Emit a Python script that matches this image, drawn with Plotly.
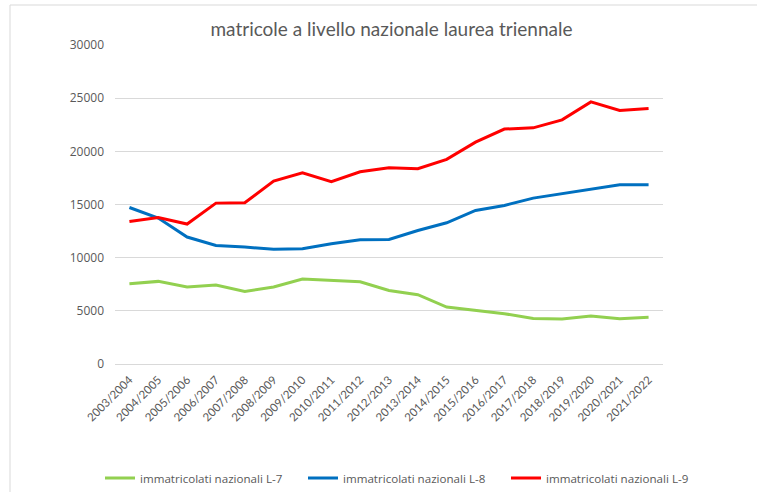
import plotly.graph_objects as go

years = ["2003/2004", "2004/2005", "2005/2006", "2006/2007", "2007/2008", "2008/2009",
         "2009/2010", "2010/2011", "2011/2012", "2012/2013", "2013/2014", "2014/2015",
         "2015/2016", "2016/2017", "2017/2018", "2018/2019", "2019/2020", "2020/2021",
         "2021/2022"]

l7 = [7550, 7770, 7240, 7430, 6830, 7240, 7990, 7830, 7740, 6920, 6520, 5360,
      5050, 4730, 4290, 4230, 4510, 4260, 4390]
l8 = [14720, 13720, 11940, 11150, 11000, 10780, 10840, 11310, 11690, 11720, 12560,
      13280, 14440, 14910, 15600, 16010, 16480, 16850, 16860]
l9 = [13410, 13780, 13160, 15130, 15160, 17200, 17980, 17140, 18080, 18450, 18360,
      19240, 20860, 22090, 22210, 22960, 24650, 23840, 24030]

names = ["immatricolati nazionali L-7", "immatricolati nazionali L-8", "immatricolati nazionali L-9"]
colors = ["#92D050", "#0070C0", "#FF0000"]

FONT = "Lato, sans-serif"
LFONT = "Open Sans, sans-serif"
GRAY = "#595959"

fig = go.Figure()
for vals, name, col in zip([l7, l8, l9], names, colors):
    fig.add_trace(go.Scatter(x=years, y=vals, mode="lines", name=name,
                             line=dict(color=col, width=3)))

W, H = 757, 492
ml, mr, mt, mb = 115, 94, 45, 128
pw, ph = W - ml - mr, H - mt - mb

def px(x):
    return (x - ml) / pw

def py(y):
    return (H - mb - y) / ph

fig.update_layout(
    width=W, height=H,
    margin=dict(l=ml, r=mr, t=mt, b=mb, autoexpand=False),
    paper_bgcolor="white", plot_bgcolor="white",
    font=dict(family=FONT, color=GRAY, size=12),
    title=dict(text="matricole a livello nazionale laurea triennale",
               x=px(391.5), xanchor="center", xref="paper",
               y=1 - 29 / H, yanchor="middle",
               font=dict(size=19, color=GRAY, family=FONT)),
    xaxis=dict(type="category", range=[-0.5, len(years) - 0.5], showgrid=False,
               showline=False, zeroline=False, tickangle=-45, automargin=False,
               ticklabelstandoff=6,
               tickfont=dict(size=11.5, color=GRAY, family=FONT)),
    yaxis=dict(range=[0, 30000], dtick=5000, showgrid=True, gridcolor="#D9D9D9",
               gridwidth=1, zeroline=True, zerolinecolor="#D9D9D9", zerolinewidth=1,
               showline=False, tickfont=dict(size=12, color=GRAY, family=LFONT),
               automargin=False, ticklabelstandoff=10, tickformat="d"),
    legend=dict(orientation="h", x=px(100), xanchor="left", y=py(478), yanchor="middle",
                font=dict(size=11.6, color=GRAY, family=LFONT), itemwidth=30,
                entrywidthmode="pixels", entrywidth=158,
                bgcolor="rgba(0,0,0,0)", tracegroupgap=0),
    showlegend=True,
    shapes=[
        dict(type="line", xref="paper", yref="paper", x0=px(10), x1=px(800),
             y0=py(5), y1=py(5), line=dict(color="#D9D9D9", width=1)),
        dict(type="line", xref="paper", yref="paper", x0=px(10), x1=px(10),
             y0=py(5), y1=py(520), line=dict(color="#D9D9D9", width=1)),
    ],
)

fig.write_html("out.html", config={"displayModeBar": False},
               post_script="document.body.style.margin='0';document.body.style.padding='0';")
